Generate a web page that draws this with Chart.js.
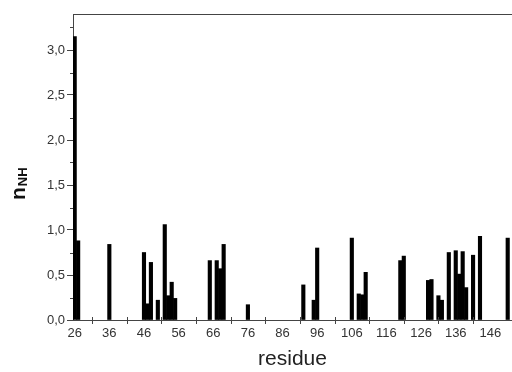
<!DOCTYPE html>
<html>
<head>
<meta charset="utf-8">
<script src="https://cdn.jsdelivr.net/npm/chart.js@4"></script>
<style>
  html, body { margin: 0; padding: 0; background: #fff; overflow: hidden; }
  #wrap { width: 512px; height: 372px; }
</style>
</head>
<body>
<div id="wrap"><canvas id="myChart" width="512" height="372"></canvas></div>
<script>
// residue numbers and n_NH values
const residues = [26, 27, 36, 46, 47, 48, 50, 52, 53, 54, 55, 65, 67, 68, 69, 76,
  92, 95, 96, 106, 108, 109, 110, 120, 121, 128, 129, 131, 132, 134, 136, 137,
  138, 139, 141, 143, 151];
const nNH = [3.15, 0.88, 0.84, 0.75, 0.18, 0.64, 0.22, 1.06, 0.27, 0.42, 0.24, 0.66,
  0.66, 0.57, 0.84, 0.17, 0.39, 0.22, 0.80, 0.91, 0.29, 0.28, 0.53, 0.66, 0.71,
  0.44, 0.45, 0.27, 0.22, 0.75, 0.77, 0.51, 0.76, 0.36, 0.72, 0.93, 0.91];

const xTickLabels = [26, 36, 46, 56, 66, 76, 86, 96, 106, 116, 126, 136, 146];
const xTickMarks = [31, 41, 51, 61, 71, 81, 91, 101, 111, 121, 131, 141];
const yTickLabels = [0, 0.5, 1, 1.5, 2, 2.5, 3];
const yMinorTicks = [0.25, 0.75, 1.25, 1.75, 2.25, 2.75, 3.25];

const axisColor = '#444';
const font = "'Liberation Sans', Arial, sans-serif";

// top frame line, minor ticks and the n_NH title (needs a subscript)
const extras = {
  id: 'extras',
  afterDraw(chart) {
    const ctx = chart.ctx;
    const a = chart.chartArea;
    const x = chart.scales.x, y = chart.scales.y;
    ctx.save();
    ctx.strokeStyle = axisColor;
    ctx.lineWidth = 1;
    ctx.beginPath();
    ctx.moveTo(a.left, Math.round(a.top) + 0.5);
    ctx.lineTo(a.right, Math.round(a.top) + 0.5);
    yMinorTicks.forEach(v => {
      const py = Math.round(y.getPixelForValue(v)) + 0.5;
      ctx.moveTo(a.left - 3, py);
      ctx.lineTo(a.left, py);
    });
    xTickMarks.forEach(v => {
      const px = Math.round(x.getPixelForValue(v)) + 0.5;
      ctx.moveTo(px, a.bottom - 3);
      ctx.lineTo(px, a.bottom + 4);
    });
    ctx.stroke();

    ctx.translate(25, 200);
    ctx.rotate(-Math.PI / 2);
    ctx.fillStyle = '#111';
    ctx.textBaseline = 'alphabetic';
    ctx.font = 'bold 21px ' + font;
    ctx.fillText('n', 0, 0);
    const w = ctx.measureText('n').width;
    ctx.font = 'bold 13px ' + font;
    ctx.fillText('NH', w + 1, 2);
    ctx.restore();
  }
};

let ctx = document.getElementById('myChart').getContext('2d');
new Chart(ctx, {
  type: 'bar',
  data: {
    datasets: [{
      label: 'nNH',
      data: residues.map((r, i) => ({ x: r, y: nNH[i] })),
      backgroundColor: '#000',
      borderWidth: 0,
      barPercentage: 1,
      categoryPercentage: 1
    }]
  },
  options: {
    responsive: false,
    animation: false,
    layout: { padding: { top: 14, right: 0, left: 0, bottom: 0 } },
    plugins: { legend: { display: false }, tooltip: { enabled: false } },
    scales: {
      x: {
        type: 'linear',
        offset: false,
        min: 25.51,
        max: 152.24,
        afterBuildTicks: s => { s.ticks = xTickLabels.map(v => ({ value: v })); },
        afterFit: s => { s.height = 52; },
        grid: { display: false, drawTicks: false },
        border: { color: axisColor, width: 1 },
        ticks: {
          color: '#333',
          padding: 6,
          maxRotation: 0,
          autoSkip: false,
          font: { family: font, size: 13 },
          callback: v => String(v)
        },
        title: {
          display: true,
          text: 'residue',
          color: '#222',
          padding: { top: 4, bottom: 0 },
          font: { family: font, size: 21 }
        }
      },
      y: {
        min: 0,
        max: 3.4,
        afterBuildTicks: s => { s.ticks = yTickLabels.map(v => ({ value: v })); },
        afterFit: s => { s.width = 73; },
        grid: { drawOnChartArea: false, tickLength: 6, color: axisColor },
        border: { color: axisColor, width: 1 },
        ticks: {
          color: '#333',
          padding: 2,
          font: { family: font, size: 13 },
          callback: v => Number(v).toFixed(1).replace('.', ',')
        }
      }
    }
  },
  plugins: [extras]
});
</script>
</body>
</html>
